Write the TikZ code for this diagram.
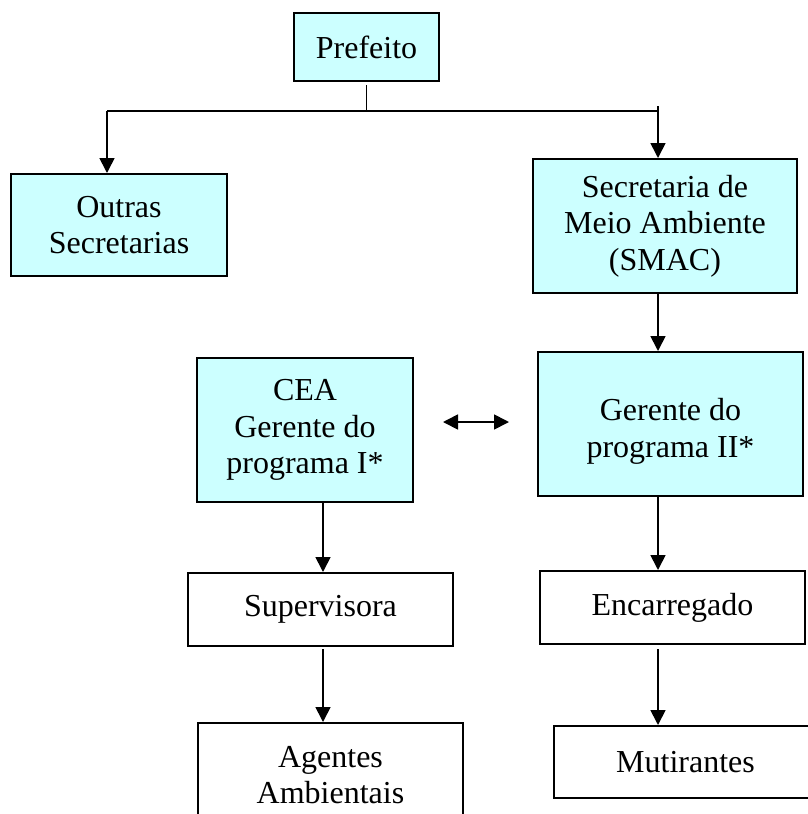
\documentclass[tikz,border=0pt]{standalone}
\usepackage{fontspec}
\setmainfont{Liberation Serif}
\usetikzlibrary{arrows.meta}
\definecolor{boxcyan}{HTML}{CCFFFF}
\begin{document}
\begin{tikzpicture} [x = 0.5pt, y = -0.5pt,
		box/.style = {draw, line width = 1pt, inner sep = 0pt, align = center,
			font = \fontsize{16}{18.25}\selectfont},
		cbox/.style = {box, fill = boxcyan},
		arr/.style = {line width = 0.85pt, -{Triangle[length = 7.5pt, width = 7.5pt]}},
		dbl/.style = {line width = 0.85pt, {Triangle[length = 7.5pt, width = 7.5pt]}-{Triangle[length = 7.5pt, width = 7.5pt]}}]
			\useasboundingbox (0,0) rectangle (808,814);
			\clip (0,0) rectangle (808,814);
			
			\node [cbox, minimum width = 72.5pt, minimum height = 34pt] (pref) at (366.5,47) {Prefeito};
			\node [cbox, minimum width = 108pt, minimum height = 51pt] (outras) at (119,225) {Outras\\Secretarias};
			\node [cbox, minimum width = 132pt, minimum height = 67pt] (smac) at (665,226) {Secretaria de\\Meio Ambiente\\(SMAC)};
			\node [cbox, minimum width = 108pt, minimum height = 72pt] (cea) at (305,430) {CEA\\Gerente do\\programa I*};
			\node [cbox, minimum width = 132.5pt, minimum height = 72pt] (ger) at (670.5,424) {\mbox{}\\Gerente do\\programa II*};
			\node [box, minimum width = 132.5pt, minimum height = 36.5pt] (sup) at (320.5,609.5) {Supervisora};
			\node [box, minimum width = 132.5pt, minimum height = 36.5pt] (enc) at (672.5,607.5) {Encarregado};
			\node [box, minimum width = 132.5pt, minimum height = 52pt] (agt) at (330.5,775) {Agentes\\Ambientais};
			\node [box, minimum width = 131.5pt, minimum height = 36pt] (mut) at (685.5,762) {Mutirantes};
			
			\coordinate (stem) at (366.5,85);
			\coordinate (hub) at (366.5,111);
			\coordinate (lft) at (107,111);
			\coordinate (rgt) at (658,111);
			\coordinate (rtick) at (658,106);
			\coordinate (lcol) at (323,0);
			\coordinate (rcol) at (658,0);
			\coordinate (la) at (443,422);
			\coordinate (ra) at (509,422);
			
			\draw [line width = 0.85pt] (stem) to (hub) ;
			\draw [line width = 0.85pt] (lft) to (rgt) ;
			\draw [arr] (lft) to (outras.north -| lft) ;
			\draw [arr] (rtick) to (smac.north -| rtick) ;
			
			\draw [arr] (smac.south -| rcol) to (ger.north -| rcol) ;
			\draw [arr] (ger.south -| rcol) to (enc.north -| rcol) ;
			\draw [arr, shorten < = 2pt] (enc.south -| rcol) to (mut.north -| rcol) ;
			
			\draw [arr] (cea.south -| lcol) to (sup.north -| lcol) ;
			\draw [arr, shorten < = 1pt] (sup.south -| lcol) to (agt.north -| lcol) ;
			
			\draw [dbl] (la) to (ra) ;
		\end{tikzpicture}
\end{document}
